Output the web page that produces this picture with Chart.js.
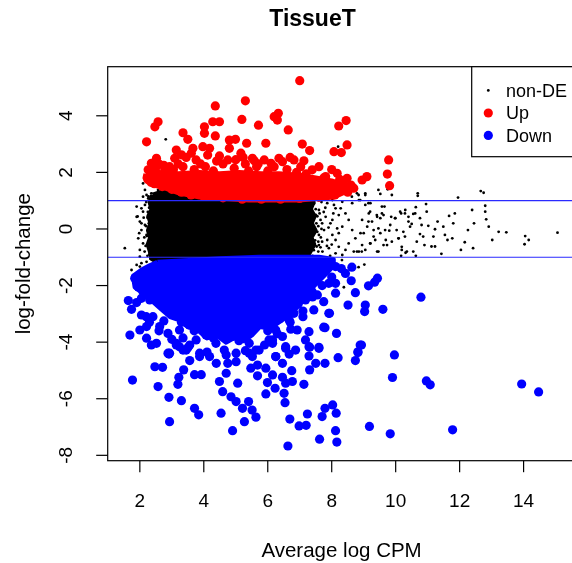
<!DOCTYPE html>
<html>
<head>
<meta charset="utf-8">
<script src="https://cdn.jsdelivr.net/npm/chart.js@4.4.0/dist/chart.umd.min.js"></script>
<style>
html, body { margin: 0; padding: 0; overflow: hidden; background: #fff; }
</style>
</head>
<body>
<canvas id="maPlot" width="580" height="563"></canvas>
<script>
// tick labels
var xTicks = [2, 4, 6, 8, 10, 12, 14];
var yTicks = [-8, -6, -4, -2, 0, 2, 4];
var legendLabels = ["non-DE", "Up", "Down"];

// [average logCPM, logFC]
var nonDE = [
  [15.06,-0.13],[14.05,-0.25],[14.16,-0.39],[14.03,-0.54],[13.46,-0.12],[13.22,-0.10],[13.02,-0.39],[12.91,0.08],
  [12.83,0.34],[12.80,0.61],[12.80,0.82],[12.66,1.34],[12.75,1.28],[11.95,1.11],[12.39,0.67],[12.45,0.20],
  [12.26,-0.04],[12.42,-0.68],[12.04,-0.74],[12.16,-0.47],[11.85,0.55],[11.67,0.46],[11.80,0.20],[11.77,-0.33],
  [11.54,-0.21],[11.62,-0.39],[11.43,-0.88],[11.49,0.08],[11.31,0.26],[11.23,-0.01],[11.18,-0.27],[11.23,-0.62],
  [11.12,-0.62],[10.90,-0.57],[11.02,0.11],[10.97,0.61],[10.95,0.88],[10.69,1.26],[10.69,1.17],[10.63,0.77],
  [10.55,0.53],[10.76,0.38],[10.81,0.14],[10.76,-0.18],[10.86,-0.27],[10.66,-0.45],[10.50,0.18],[10.40,0.26],
  [10.29,0.55],[10.17,0.55],[10.24,-0.10],[10.29,-0.27],[10.09,-0.33],[10.19,-0.74],[10.31,-0.84],[10.55,-0.80],
  [10.63,-0.95],[10.17,-0.95],[10.03,-0.04],[9.98,0.38],[9.86,0.43],[9.88,1.20],[9.75,1.40],[9.46,1.38],
  [9.52,1.24],[9.65,0.79],[9.62,0.49],[9.52,0.38],[9.41,0.49],[9.46,0.02],[9.80,-0.06],[9.69,-0.39],
  [9.62,-0.57],[9.46,-0.80],[9.20,-0.51],[9.31,-0.27],[9.15,0.26],[9.20,0.61],[9.05,1.20],[9.15,0.91],
  [8.89,1.02],[8.84,1.20],[8.63,1.14],[8.94,-0.80],[8.79,-0.80],[9.00,-0.15],
  [8.33,0.96],[8.43,0.55],[8.53,0.32],[8.33,0.08],[8.64,-0.04],[8.74,-0.33],[8.53,-0.51],[8.22,-0.63],
  [8.43,-0.74],[8.69,-0.80],[8.85,-0.80],[9.05,-0.74],[9.21,-0.51],[9.36,-0.39],[9.52,-0.15],[9.67,-0.04],
  [9.83,0.14],[9.99,0.38],[10.14,0.61],[10.30,0.67],[10.40,0.43],[10.61,0.55],[10.45,0.08],[10.09,-0.33],
  [10.19,-0.63],[10.35,-0.80],[9.26,0.26],[9.42,0.43],[9.57,0.55],[9.16,0.55],[9.05,0.85],[9.21,0.91],
  [9.57,0.79],[8.85,1.02],[8.64,0.91],[8.95,0.32],[9.11,0.08],[9.31,-0.04],[8.90,-0.15],[8.79,1.26],
  [9.05,1.26],[9.42,-0.80],[9.73,-0.57],[9.88,-0.45],[8.95,-0.57],[8.33,-0.92],[8.22,0.49],[8.12,0.73],
  [8.02,1.02],[8.22,1.20],[7.91,1.32],[7.71,1.14],
  [7.60,0.67],[7.81,0.43],[7.96,0.20],[7.76,-0.04],[8.02,-0.21],[7.86,-0.39],[8.12,-0.39],[7.60,-0.57],
  [7.91,-0.68],[7.71,-0.80],[8.12,-0.86],[8.17,0.02],[8.07,0.85],[8.28,0.73],[7.86,0.91],[7.65,0.32],
  [8.02,0.32],[8.22,-0.15],[7.60,-0.21],[7.68,0.95],[7.75,0.60],[7.90,0.05],[7.70,-0.45],[7.95,-0.95],
  [7.62,-1.00],[7.80,0.75],[7.58,0.10],[7.66,-0.30],[8.05,0.55],[7.55,0.45],[7.70,0.20],[7.85,-0.60],
  [8.00,-0.55],[7.58,-0.80],
  [7.45,0.90],[7.50,0.50],[7.42,0.00],[7.48,-0.40],[7.44,-0.75],[7.52,0.20],[7.40,-0.95],[7.38,1.00],
  [7.55,-0.10],[7.50,0.70],[7.62,0.55],[7.58,-0.45],[7.65,-0.65],[7.68,0.00],[7.47,1.10],[7.53,-0.62],
  [1.53,-0.68],[1.95,-0.33],[2.05,-0.04],[2.00,0.26],[2.10,0.61],[2.16,0.85],[2.00,-0.74],[2.10,-0.51],
  [1.90,0.43],[2.05,0.73],[2.16,1.38],[2.10,1.61],[2.21,1.20],[2.36,1.26],[2.57,1.38],[2.73,1.28],
  [2.93,1.40],[3.04,1.20],[1.74,-1.45],[1.90,-1.27],[2.05,-1.21],[2.21,-1.16],[2.36,-1.33],[2.16,-1.45],
  [2.00,-0.98],[2.16,0.14],[2.21,-0.21],[2.10,1.14],[2.26,1.08],[2.00,-1.33],[2.41,-1.57],[2.62,-1.27],
  [2.83,-1.21],[1.93,0.44],[1.90,0.79],[2.15,-0.80],[2.12,0.40],[2.18,-0.60],[2.20,0.95],[2.05,0.20],
  [2.14,-0.30],[1.98,-0.15],
  [2.25,0.60],[2.28,0.20],[2.30,-0.20],[2.26,-0.55],[2.30,-0.90],[2.35,0.95],[2.24,0.40],[2.27,-0.05],
  [2.32,-0.70],[2.20,0.10],[2.24,-0.95],[2.29,0.75],[2.22,-0.25],[2.33,-1.05],[2.27,1.15],
  [9.02,-1.26],[8.84,-1.35],[8.38,-2.06],[8.32,-1.10],[8.17,-1.31],[7.82,-1.10],[2.81,3.17],[8.20,2.91]
];

var up = [
  [7.00,5.24],[5.30,4.53],[4.36,4.35],[2.57,3.79],[2.47,3.61],[2.21,3.08],[3.35,3.40],[3.50,3.17],
  [4.02,3.61],[4.02,3.38],[4.28,3.79],[4.49,3.79],[4.36,3.29],[5.19,3.87],[5.71,3.67],[6.20,3.97],
  [6.33,4.09],[6.30,3.85],[6.64,3.50],[8.22,3.64],[8.45,3.83],[4.80,3.14],[4.99,3.17],[5.34,3.03],
  [5.94,3.03],[7.08,3.00],[7.31,2.77],[8.07,2.73],[8.48,2.97],[8.30,2.70],[6.70,2.53],[7.13,2.41],
  [9.78,2.44],[9.74,1.94],[9.81,1.53],[9.10,1.85],[8.69,1.44],[8.48,1.79],[7.81,1.85],[8.17,1.97],
  [4.80,2.85],[3.66,2.85],[3.97,2.91],[3.09,2.50],[2.52,2.50],[2.36,2.32],[2.31,1.85],[4.12,2.61],
  [4.49,2.58],[5.23,2.53],[5.58,2.41],[6.10,2.32],[2.93,2.20],[3.45,2.53],[3.76,2.44],[4.75,2.44],
  [3.14,2.79],[3.30,2.62],[3.61,2.68],[4.18,2.85],[5.16,2.68],[5.52,2.50],[5.89,2.44],[6.46,2.38],
  [6.82,2.44],[7.03,2.20],[7.39,2.09],[8.33,1.62],[8.95,1.73],[2.52,2.20],[2.26,2.09],[2.78,2.09],
  [2.25,1.75],[2.45,1.60],[2.70,1.50],[3.00,1.40],[3.30,1.30],[3.60,1.20],[4.00,1.15],[4.60,1.10],
  [5.20,1.05],[5.80,1.05],[6.40,1.05],[7.00,1.08],[7.60,1.12],[8.10,1.20],[8.50,1.30],[8.60,1.55],
  [8.00,2.10],[7.60,2.20],[4.60,2.30],[5.30,2.30],[6.20,2.20],[3.90,2.30],[2.60,2.30],[3.20,2.30],
  [2.40,2.05],[2.75,2.25],[3.05,2.10],[3.35,2.20],[3.70,2.10],[4.05,2.20],[4.30,2.05],[4.95,2.15],
  [5.40,2.05],[5.65,2.20],[6.00,2.05],[6.60,2.10],[6.90,2.00],[7.20,1.95],[7.75,1.80],[8.25,1.75],
  [8.45,1.50],[4.40,2.40],[5.00,2.45],[5.70,2.30],[6.35,2.50]
];

var down = [
  [1.77,-5.34],[2.47,-4.87],[2.71,-4.89],[2.57,-5.57],[2.91,-5.95],[2.93,-6.81],[2.91,-4.42],[3.30,-6.07],
  [3.19,-5.49],[3.22,-5.24],[3.37,-4.98],[3.56,-4.65],[3.71,-6.34],[3.84,-6.57],[3.71,-5.15],[3.92,-5.15],
  [4.54,-6.51],[4.90,-7.13],[4.49,-5.39],[4.70,-5.10],[4.59,-5.75],[4.85,-5.93],[5.01,-6.10],[5.06,-5.45],
  [5.21,-6.34],[5.27,-6.81],[5.40,-6.10],[5.51,-6.40],[5.63,-6.65],[5.47,-4.92],[5.68,-5.19],[5.94,-5.83],
  [5.99,-5.43],[6.23,-5.63],[6.51,-5.81],[6.54,-6.14],[6.69,-6.72],[6.63,-7.67],[6.98,-6.96],[7.20,-6.94],
  [7.24,-6.54],[7.13,-5.49],[6.77,-5.39],[6.75,-5.01],[7.31,-4.98],[7.50,-4.75],[7.79,-4.75],[7.29,-4.49],
  [7.60,-4.18],[7.31,-4.18],[7.79,-6.34],[8.03,-6.22],[7.70,-6.63],[8.14,-6.51],[8.12,-7.13],[7.62,-7.43],
  [8.16,-7.53],[8.20,-4.55],[8.74,-4.65],[8.82,-4.37],[8.93,-4.10],[9.18,-6.98],[9.83,-7.24],[9.96,-4.45],
  [9.90,-5.25],[6.15,-4.04],[6.56,-4.16],[6.67,-4.42],[6.25,-4.51],[6.46,-4.75],[5.94,-4.92],[6.15,-5.16],
  [6.46,-5.24],[6.56,-5.45],[5.68,-4.81],[5.42,-4.39],[5.63,-4.28],[5.01,-4.69],[4.75,-4.75],[4.39,-4.75],
  [4.18,-4.51],[3.87,-4.39],[3.35,-4.28],[3.14,-4.10],[3.56,-4.10],[2.36,-4.10],
  [1.64,-2.53],[1.74,-2.84],[1.69,-3.75],[1.84,-1.74],[2.00,-3.57],[2.21,-3.86],[2.05,-3.04],[2.10,-2.22],
  [2.88,-4.39],[3.24,-4.16],[7.70,-1.57],[8.12,-1.33],[7.75,-2.57],[7.91,-2.98],[7.44,-2.86],[7.75,-3.47],
  [7.29,-3.63],[7.60,-4.22],[7.29,-4.16],[6.72,-3.54],[6.92,-3.57],[6.56,-4.22],[6.15,-3.92],[6.25,-3.27],
  [7.39,-2.22],[6.41,-3.04],[6.67,-3.22],
  [10.79,-2.41],[9.43,-1.74],[9.34,-1.88],[9.15,-2.01],[9.60,-2.84],[9.05,-2.69],[9.03,-2.92],[8.74,-2.25],
  [8.61,-1.83],[8.63,-1.35],[8.43,-1.57],[8.51,-2.69],[8.12,-2.27],[7.93,-2.98],[7.10,-3.10],[7.79,-3.49],
  [8.15,-3.69],[8.89,-4.10],[8.82,-4.34],[8.12,-1.92],[7.86,-1.39],[7.55,-1.27],
  [10.96,-5.37],[11.08,-5.51],[13.94,-5.48],[14.47,-5.76],[11.78,-7.10],
  [2.41,-3.10],[2.62,-3.45],[2.88,-3.69],[3.24,-3.57],[3.55,-3.39],[3.14,-4.04],[3.45,-4.28],[3.76,-3.92],
  [4.07,-3.75],[4.38,-4.04],[4.64,-4.28],[4.49,-3.57],[4.90,-3.80],[5.21,-3.69],[5.42,-4.04],[5.73,-4.28],
  [6.04,-3.92],[6.25,-3.57],[6.46,-3.80],[5.94,-3.27],[5.63,-2.92],[5.21,-3.10],[4.80,-3.16],[4.18,-3.22],
  [3.87,-2.98],[3.55,-2.86],[2.93,-2.86],[2.62,-2.63],[2.31,-2.51],[2.21,-3.45],[2.52,-4.04],[2.93,-4.39],
  [3.87,-4.51],[5.01,-4.39],[5.52,-4.51],[6.25,-4.51],[6.87,-4.28],[7.18,-3.92],[6.82,-2.98],[7.18,-2.51],
  [7.55,-2.33],[7.91,-1.92],[7.29,-1.45],
  [2.30,-3.30],[2.60,-3.60],[3.00,-3.90],[3.50,-4.20],[4.10,-4.35],[4.70,-4.45],[5.30,-4.30],[5.90,-4.10],
  [6.30,-3.70],[6.70,-3.30],[7.10,-2.90],[7.40,-2.40],[7.70,-2.00],[8.00,-1.70],[8.30,-1.40],[1.90,-2.60],
  [2.20,-3.10],[3.30,-3.30],[4.00,-3.50],[4.60,-3.40],[5.50,-3.50],[6.00,-3.60],[3.70,-3.60],[2.75,-3.25],
  [5.10,-3.95],[4.30,-3.85],[6.55,-2.90],[6.95,-2.65],[2.05,-2.45],[1.95,-2.05],[3.35,-3.85],[5.80,-3.05]
];

// outlines of the saturated (solid) parts of each cloud
var nonDECore = [
  [2.40,1.20],[3.09,1.45],[4.49,1.38],[6.35,1.31],[7.30,1.20],[7.42,0.95],[7.33,0.70],[7.45,0.45],
  [7.36,0.20],[7.48,-0.05],[7.35,-0.30],[7.44,-0.55],[7.32,-0.80],[7.20,-1.00],[6.98,-1.02],[5.42,-1.10],
  [3.87,-1.24],[2.78,-1.31],[2.38,-1.05],[2.33,-0.80],[2.26,-0.55],[2.34,-0.30],[2.27,-0.05],[2.35,0.20],
  [2.28,0.45],[2.38,0.70],[2.32,0.95],[2.40,1.20]
];
var upCore = [
  [2.19,1.95],[2.60,2.00],[3.20,1.95],[3.87,2.00],[4.50,1.95],[5.11,2.00],[5.80,1.95],[6.35,1.95],
  [7.00,1.90],[7.50,1.80],[8.00,1.70],[8.38,1.55],[8.41,1.31],[8.07,1.13],[6.98,1.02],[5.42,1.02],
  [3.87,1.13],[3.24,1.27],[2.78,1.45],[2.31,1.59],[2.16,1.80],[2.19,1.95]
];
var downCore = [
  [2.55,-1.18],[3.00,-1.15],[4.50,-1.05],[5.73,-1.00],[7.60,-1.00],[8.05,-1.08],[8.05,-1.30],[7.80,-1.60],
  [7.45,-2.00],[7.15,-2.45],[6.80,-2.90],[6.40,-3.25],[6.05,-3.50],[5.75,-3.45],[5.50,-3.75],[5.25,-3.95],
  [5.00,-3.80],[4.70,-4.00],[4.40,-3.75],[4.10,-3.85],[3.80,-3.55],[3.50,-3.45],[3.20,-3.20],[2.95,-3.10],
  [2.60,-2.75],[2.25,-2.40],[1.85,-2.05],[1.80,-1.66],[2.06,-1.45],[2.31,-1.30],[2.55,-1.18]
];

var xMin = 0.995, xMax = 15.62;
var yMin = -8.19, yMax = 5.735;
var lfcCut = [1, -1];

var FONT = '"Liberation Sans", Arial, sans-serif';

function pts(arr){ return arr.map(function(p){ return {x: p[0], y: p[1]}; }); }

function cloud(arr, color, r, order){
  return { data: pts(arr), backgroundColor: color, borderWidth: 0, pointRadius: r, pointHoverRadius: r, order: order };
}
function core(arr, color, order){
  return { type: 'line', data: pts(arr), showLine: true, fill: 'shape', tension: 0,
    backgroundColor: color, borderColor: color, borderWidth: 5, borderJoinStyle: 'round',
    pointRadius: 0, order: order };
}
function hline(v){
  return { type: 'line', data: [{x: xMin, y: v}, {x: xMax, y: v}], showLine: true, fill: false,
    borderColor: '#2a2aff', borderWidth: 1.2, pointRadius: 0, order: 0 };
}

var rFrame = {
  id: 'rFrame',
  beforeDraw: function(chart){
    var c = chart.ctx;
    c.save(); c.fillStyle = '#fff'; c.fillRect(0, 0, chart.width, chart.height); c.restore();
  },
  afterDraw: function(chart){
    var ctx = chart.ctx, a = chart.chartArea, xs = chart.scales.x, ys = chart.scales.y;
    ctx.save();
    ctx.strokeStyle = '#000'; ctx.fillStyle = '#000'; ctx.lineWidth = 1.2;
    ctx.strokeRect(a.left, a.top, a.right - a.left, a.bottom - a.top);

    ctx.font = '19px ' + FONT;
    ctx.textAlign = 'center'; ctx.textBaseline = 'alphabetic';
    xTicks.forEach(function(v){
      var px = xs.getPixelForValue(v);
      ctx.beginPath(); ctx.moveTo(px, a.bottom); ctx.lineTo(px, a.bottom + 11.5); ctx.stroke();
      ctx.fillText(String(v), px, 506.5);
    });
    yTicks.forEach(function(v){
      var py = ys.getPixelForValue(v);
      ctx.beginPath(); ctx.moveTo(a.left, py); ctx.lineTo(a.left - 11.5, py); ctx.stroke();
      ctx.save(); ctx.translate(72, py); ctx.rotate(-Math.PI / 2);
      ctx.fillText(String(v), 0, 0); ctx.restore();
    });

    ctx.font = '20.5px ' + FONT;
    ctx.fillText('Average log CPM', (a.left + a.right) / 2, 556.5);
    ctx.save(); ctx.translate(30, (a.top + a.bottom) / 2); ctx.rotate(-Math.PI / 2);
    ctx.fillText('log-fold-change', 0, 0); ctx.restore();

    ctx.font = 'bold 23px ' + FONT;
    ctx.fillText('TissueT', 312.5, 26);

    // legend, top right inside the plot box
    ctx.fillStyle = '#fff';
    ctx.fillRect(471.7, a.top, a.right - 471.7, 90);
    ctx.strokeRect(471.7, a.top, a.right - 471.7, 90);
    var cols = ['#000', '#ff0000', '#0000ff'], rads = [1.4, 4.6, 4.6], bases = [96.7, 119.3, 141.7];
    ctx.font = '18px ' + FONT; ctx.textAlign = 'left';
    legendLabels.forEach(function(t, i){
      ctx.fillStyle = cols[i];
      ctx.beginPath(); ctx.arc(488.3, bases[i] - 6.3, rads[i], 0, Math.PI * 2); ctx.fill();
      ctx.fillStyle = '#000';
      ctx.fillText(t, 506, bases[i]);
    });
    ctx.restore();
  }
};

new Chart(document.getElementById('maPlot'), {
  type: 'scatter',
  data: {
    datasets: [
      hline(lfcCut[0]),
      hline(lfcCut[1]),
      cloud(down, '#0000ff', 4.6, 1),
      core(downCore, '#0000ff', 2),
      cloud(up, '#ff0000', 4.6, 3),
      core(upCore, '#ff0000', 4),
      cloud(nonDE, '#000000', 1.4, 5),
      core(nonDECore, '#000000', 6)
    ]
  },
  options: {
    responsive: false,
    animation: false,
    events: [],
    layout: { padding: { top: 66.7, right: 2, left: 0, bottom: 0 } },
    plugins: { legend: { display: false }, tooltip: { enabled: false }, title: { display: false } },
    scales: {
      x: {
        type: 'linear', min: xMin, max: xMax,
        grid: { display: false }, border: { display: false }, ticks: { display: false },
        afterFit: function(s){ s.height = 102.3; }
      },
      y: {
        type: 'linear', min: yMin, max: yMax,
        grid: { display: false }, border: { display: false }, ticks: { display: false },
        afterFit: function(s){ s.width = 107.7; }
      }
    }
  },
  plugins: [rFrame]
});
</script>
</body>
</html>
